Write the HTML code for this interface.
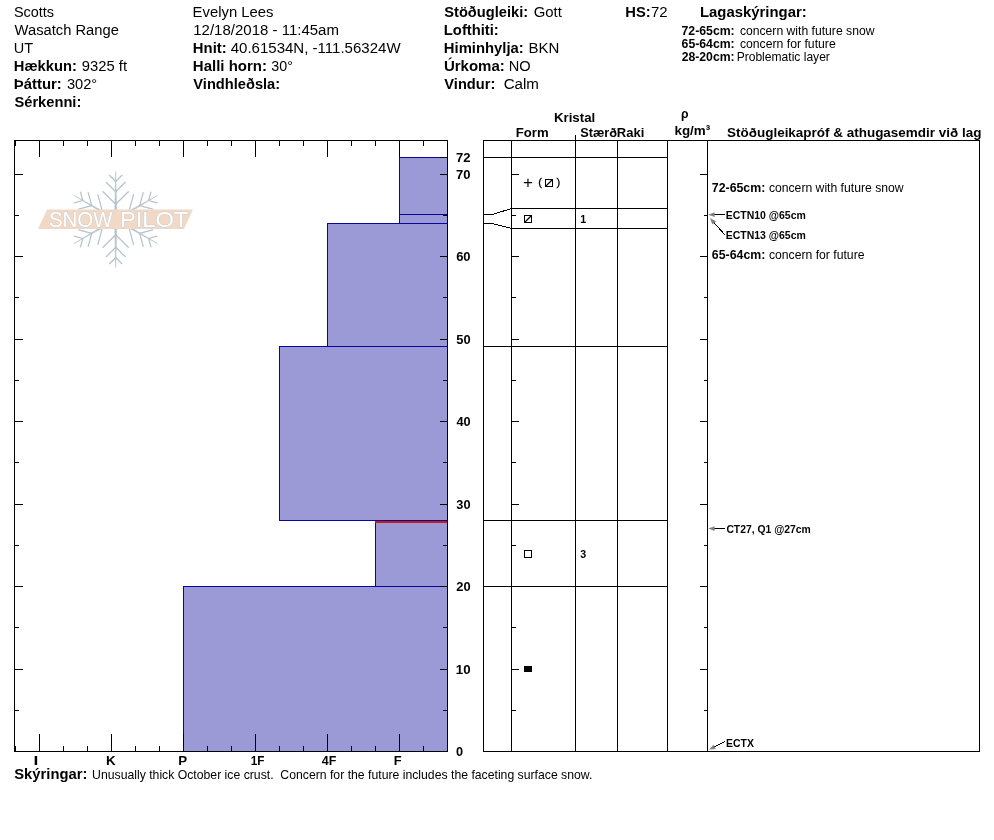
<!DOCTYPE html>
<html><head><meta charset="utf-8"><title>Snow Pilot</title>
<style>
html,body{margin:0;padding:0;background:#fff}
svg{display:block}
text{font-family:"Liberation Sans",sans-serif;white-space:pre}
rect{shape-rendering:crispEdges}
</style></head><body>
<svg width="994" height="840" viewBox="0 0 994 840">
<rect x="0" y="0" width="994" height="840" fill="#fff"/>
<text x="13.95" y="17" font-size="15.2" textLength="40.14" lengthAdjust="spacingAndGlyphs">Scotts</text>
<text x="14.6" y="35" font-size="15.2" textLength="104.23" lengthAdjust="spacingAndGlyphs">Wasatch Range</text>
<text x="13.71" y="53" font-size="15.2" textLength="19.32" lengthAdjust="spacingAndGlyphs">UT</text>
<text x="13.84" y="71" font-size="15.2" font-weight="bold" textLength="63.03" lengthAdjust="spacingAndGlyphs">Hækkun:</text>
<text x="81.83" y="71" font-size="15.2" textLength="45.21" lengthAdjust="spacingAndGlyphs">9325 ft</text>
<text x="13.83" y="89" font-size="15.2" font-weight="bold" textLength="47.94" lengthAdjust="spacingAndGlyphs">Þáttur:</text>
<text x="66.89" y="89" font-size="15.2" textLength="30.27" lengthAdjust="spacingAndGlyphs">302°</text>
<text x="14.43" y="107" font-size="15.2" font-weight="bold" textLength="66.92" lengthAdjust="spacingAndGlyphs">Sérkenni:</text>
<text x="192.61" y="17" font-size="15.2" textLength="80.88" lengthAdjust="spacingAndGlyphs">Evelyn Lees</text>
<text x="193.28" y="35" font-size="15.2" textLength="145.64" lengthAdjust="spacingAndGlyphs">12/18/2018 - 11:45am</text>
<text x="192.83" y="53" font-size="15.2" font-weight="bold" textLength="33.83" lengthAdjust="spacingAndGlyphs">Hnit:</text>
<text x="230.7" y="53" font-size="15.2" textLength="169.89" lengthAdjust="spacingAndGlyphs">40.61534N, -111.56324W</text>
<text x="192.83" y="71" font-size="15.2" font-weight="bold" textLength="74.09" lengthAdjust="spacingAndGlyphs">Halli horn:</text>
<text x="271.3" y="71" font-size="15.2" textLength="21.59" lengthAdjust="spacingAndGlyphs">30°</text>
<text x="193.33" y="89" font-size="15.2" font-weight="bold" textLength="86.83" lengthAdjust="spacingAndGlyphs">Vindhleðsla:</text>
<text x="444.23" y="17" font-size="15.2" font-weight="bold" textLength="83.92" lengthAdjust="spacingAndGlyphs">Stöðugleiki:</text>
<text x="533.65" y="17" font-size="15.2" textLength="28.22" lengthAdjust="spacingAndGlyphs">Gott</text>
<text x="443.84" y="35" font-size="15.2" font-weight="bold" textLength="54.97" lengthAdjust="spacingAndGlyphs">Lofthiti:</text>
<text x="443.84" y="53" font-size="15.2" font-weight="bold" textLength="79.87" lengthAdjust="spacingAndGlyphs">Himinhylja:</text>
<text x="528.6" y="53" font-size="15.2" textLength="30.84" lengthAdjust="spacingAndGlyphs">BKN</text>
<text x="443.9" y="71" font-size="15.2" font-weight="bold" textLength="60.88" lengthAdjust="spacingAndGlyphs">Úrkoma:</text>
<text x="508.83" y="71" font-size="15.2" textLength="21.9" lengthAdjust="spacingAndGlyphs">NO</text>
<text x="444.33" y="89" font-size="15.2" font-weight="bold" textLength="51.01" lengthAdjust="spacingAndGlyphs">Vindur:</text>
<text x="503.64" y="89" font-size="15.2" textLength="35.32" lengthAdjust="spacingAndGlyphs">Calm</text>
<text x="625.24" y="17" font-size="15.2" font-weight="bold" textLength="25.42" lengthAdjust="spacingAndGlyphs">HS:</text>
<text x="651.05" y="17" font-size="15.2" textLength="16.66" lengthAdjust="spacingAndGlyphs">72</text>
<text x="699.93" y="17" font-size="15.2" font-weight="bold" textLength="106.78" lengthAdjust="spacingAndGlyphs">Lagaskýringar:</text>
<text x="681.51" y="35" font-size="12.2" font-weight="bold" textLength="53.21" lengthAdjust="spacingAndGlyphs">72-65cm:</text>
<text x="739.91" y="35" font-size="12.2" textLength="134.54" lengthAdjust="spacingAndGlyphs">concern with future snow</text>
<text x="681.57" y="48" font-size="12.2" font-weight="bold" textLength="53.15" lengthAdjust="spacingAndGlyphs">65-64cm:</text>
<text x="739.91" y="48" font-size="12.2" textLength="95.81" lengthAdjust="spacingAndGlyphs">concern for future</text>
<text x="681.63" y="61" font-size="12.2" font-weight="bold" textLength="53.08" lengthAdjust="spacingAndGlyphs">28-20cm:</text>
<text x="736.63" y="61" font-size="12.2" textLength="93.25" lengthAdjust="spacingAndGlyphs">Problematic layer</text>
<rect x="399.5" y="157.5" width="48" height="57" fill="#9b99d6" stroke="#0a059f" stroke-width="1"/>
<rect x="399.5" y="214.5" width="48" height="9" fill="#9b99d6" stroke="#0a059f" stroke-width="1"/>
<rect x="327.5" y="223.5" width="120" height="123" fill="#9b99d6" stroke="#0a059f" stroke-width="1"/>
<rect x="279.5" y="346.5" width="168" height="174" fill="#9b99d6" stroke="#0a059f" stroke-width="1"/>
<rect x="375.5" y="520.5" width="72" height="66" fill="#9b99d6" stroke="#0a059f" stroke-width="1"/>
<rect x="183.5" y="586.5" width="264" height="165" fill="#9b99d6" stroke="#0a059f" stroke-width="1"/>
<rect x="375" y="521" width="73" height="2" fill="#c01e10"/>
<rect x="14" y="140" width="434" height="1" fill="#000"/>
<rect x="14" y="751" width="434" height="1" fill="#000"/>
<rect x="14" y="140" width="1" height="612" fill="#000"/>
<rect x="447" y="140" width="1" height="612" fill="#000"/>
<rect x="39" y="140" width="1" height="17" fill="#000"/>
<rect x="39" y="734" width="1" height="18" fill="#000"/>
<rect x="63" y="140" width="1" height="6" fill="#000"/>
<rect x="63" y="746" width="1" height="6" fill="#000"/>
<rect x="87" y="140" width="1" height="6" fill="#000"/>
<rect x="87" y="746" width="1" height="6" fill="#000"/>
<rect x="111" y="140" width="1" height="17" fill="#000"/>
<rect x="111" y="734" width="1" height="18" fill="#000"/>
<rect x="135" y="140" width="1" height="6" fill="#000"/>
<rect x="135" y="746" width="1" height="6" fill="#000"/>
<rect x="159" y="140" width="1" height="6" fill="#000"/>
<rect x="159" y="746" width="1" height="6" fill="#000"/>
<rect x="183" y="140" width="1" height="17" fill="#000"/>
<rect x="183" y="734" width="1" height="18" fill="#000"/>
<rect x="207" y="140" width="1" height="6" fill="#000"/>
<rect x="207" y="746" width="1" height="6" fill="#000"/>
<rect x="231" y="140" width="1" height="6" fill="#000"/>
<rect x="231" y="746" width="1" height="6" fill="#000"/>
<rect x="255" y="140" width="1" height="17" fill="#000"/>
<rect x="255" y="734" width="1" height="18" fill="#000"/>
<rect x="279" y="140" width="1" height="6" fill="#000"/>
<rect x="279" y="746" width="1" height="6" fill="#000"/>
<rect x="303" y="140" width="1" height="6" fill="#000"/>
<rect x="303" y="746" width="1" height="6" fill="#000"/>
<rect x="327" y="140" width="1" height="17" fill="#000"/>
<rect x="327" y="734" width="1" height="18" fill="#000"/>
<rect x="351" y="140" width="1" height="6" fill="#000"/>
<rect x="351" y="746" width="1" height="6" fill="#000"/>
<rect x="375" y="140" width="1" height="6" fill="#000"/>
<rect x="375" y="746" width="1" height="6" fill="#000"/>
<rect x="399" y="140" width="1" height="17" fill="#000"/>
<rect x="399" y="734" width="1" height="18" fill="#000"/>
<rect x="423" y="140" width="1" height="6" fill="#000"/>
<rect x="423" y="746" width="1" height="6" fill="#000"/>
<rect x="15" y="140" width="1" height="6" fill="#000"/>
<rect x="15" y="746" width="1" height="6" fill="#000"/>
<rect x="14" y="710" width="5" height="1" fill="#000"/>
<rect x="443" y="710" width="5" height="1" fill="#000"/>
<rect x="14" y="669" width="9" height="1" fill="#000"/>
<rect x="440" y="669" width="8" height="1" fill="#000"/>
<rect x="14" y="627" width="5" height="1" fill="#000"/>
<rect x="443" y="627" width="5" height="1" fill="#000"/>
<rect x="14" y="586" width="9" height="1" fill="#000"/>
<rect x="440" y="586" width="8" height="1" fill="#000"/>
<rect x="14" y="545" width="5" height="1" fill="#000"/>
<rect x="443" y="545" width="5" height="1" fill="#000"/>
<rect x="14" y="504" width="9" height="1" fill="#000"/>
<rect x="440" y="504" width="8" height="1" fill="#000"/>
<rect x="14" y="462" width="5" height="1" fill="#000"/>
<rect x="443" y="462" width="5" height="1" fill="#000"/>
<rect x="14" y="421" width="9" height="1" fill="#000"/>
<rect x="440" y="421" width="8" height="1" fill="#000"/>
<rect x="14" y="380" width="5" height="1" fill="#000"/>
<rect x="443" y="380" width="5" height="1" fill="#000"/>
<rect x="14" y="339" width="9" height="1" fill="#000"/>
<rect x="440" y="339" width="8" height="1" fill="#000"/>
<rect x="14" y="297" width="5" height="1" fill="#000"/>
<rect x="443" y="297" width="5" height="1" fill="#000"/>
<rect x="14" y="256" width="9" height="1" fill="#000"/>
<rect x="440" y="256" width="8" height="1" fill="#000"/>
<rect x="14" y="215" width="5" height="1" fill="#000"/>
<rect x="443" y="215" width="5" height="1" fill="#000"/>
<rect x="14" y="174" width="9" height="1" fill="#000"/>
<rect x="440" y="174" width="8" height="1" fill="#000"/>
<rect x="440" y="157" width="8" height="1" fill="#000"/>
<text x="33.57" y="765" font-size="13.7" font-weight="bold" textLength="4.82" lengthAdjust="spacingAndGlyphs">I</text>
<text x="106.03" y="765" font-size="13.7" font-weight="bold" textLength="9.67" lengthAdjust="spacingAndGlyphs">K</text>
<text x="178.13" y="765" font-size="13.7" font-weight="bold" textLength="8.89" lengthAdjust="spacingAndGlyphs">P</text>
<text x="250.69" y="765" font-size="13.7" font-weight="bold" textLength="13.74" lengthAdjust="spacingAndGlyphs">1F</text>
<text x="321.81" y="765" font-size="13.7" font-weight="bold" textLength="14.55" lengthAdjust="spacingAndGlyphs">4F</text>
<text x="393.86" y="765" font-size="13.7" font-weight="bold" textLength="7.91" lengthAdjust="spacingAndGlyphs">F</text>
<text x="455.8" y="674" font-size="13.7" font-weight="bold" textLength="14.79" lengthAdjust="spacingAndGlyphs">10</text>
<text x="456.21" y="591" font-size="13.7" font-weight="bold" textLength="14.37" lengthAdjust="spacingAndGlyphs">20</text>
<text x="456.34" y="509" font-size="13.7" font-weight="bold" textLength="14.23" lengthAdjust="spacingAndGlyphs">30</text>
<text x="456.41" y="426" font-size="13.7" font-weight="bold" textLength="14.17" lengthAdjust="spacingAndGlyphs">40</text>
<text x="456.21" y="344" font-size="13.7" font-weight="bold" textLength="14.37" lengthAdjust="spacingAndGlyphs">50</text>
<text x="456.15" y="261" font-size="13.7" font-weight="bold" textLength="14.44" lengthAdjust="spacingAndGlyphs">60</text>
<text x="456.08" y="179" font-size="13.7" font-weight="bold" textLength="14.51" lengthAdjust="spacingAndGlyphs">70</text>
<text x="455.95" y="756" font-size="13.7" font-weight="bold" textLength="7.11" lengthAdjust="spacingAndGlyphs">0</text>
<text x="456.08" y="162" font-size="13.7" font-weight="bold" textLength="14.51" lengthAdjust="spacingAndGlyphs">72</text>
<rect x="483" y="140" width="497" height="1" fill="#000"/>
<rect x="483" y="751" width="497" height="1" fill="#000"/>
<rect x="483" y="140" width="1" height="612" fill="#000"/>
<rect x="979" y="140" width="1" height="612" fill="#000"/>
<rect x="511" y="140" width="1" height="612" fill="#000"/>
<rect x="575" y="140" width="1" height="612" fill="#000"/>
<rect x="617" y="140" width="1" height="612" fill="#000"/>
<rect x="667" y="140" width="1" height="612" fill="#000"/>
<rect x="707" y="140" width="1" height="612" fill="#000"/>
<rect x="575" y="135" width="1" height="6" fill="#000"/>
<rect x="483" y="157" width="185" height="1" fill="#000"/>
<rect x="511" y="208" width="157" height="1" fill="#000"/>
<rect x="511" y="228" width="157" height="1" fill="#000"/>
<rect x="483" y="346" width="185" height="1" fill="#000"/>
<rect x="483" y="520" width="185" height="1" fill="#000"/>
<rect x="483" y="586" width="185" height="1" fill="#000"/>
<rect x="483" y="214" width="10" height="1" fill="#000"/>
<rect x="483" y="223" width="10" height="1" fill="#000"/>
<path d="M492.5 214.5 L511.5 208.5 M492.5 223.5 L511.5 228.5" stroke="#000" stroke-width="1" fill="none" shape-rendering="crispEdges"/>
<rect x="511" y="710" width="5" height="1" fill="#000"/>
<rect x="704" y="710" width="4" height="1" fill="#000"/>
<rect x="511" y="669" width="8" height="1" fill="#000"/>
<rect x="700" y="669" width="8" height="1" fill="#000"/>
<rect x="511" y="627" width="5" height="1" fill="#000"/>
<rect x="704" y="627" width="4" height="1" fill="#000"/>
<rect x="511" y="586" width="8" height="1" fill="#000"/>
<rect x="700" y="586" width="8" height="1" fill="#000"/>
<rect x="511" y="545" width="5" height="1" fill="#000"/>
<rect x="704" y="545" width="4" height="1" fill="#000"/>
<rect x="511" y="504" width="8" height="1" fill="#000"/>
<rect x="700" y="504" width="8" height="1" fill="#000"/>
<rect x="511" y="462" width="5" height="1" fill="#000"/>
<rect x="704" y="462" width="4" height="1" fill="#000"/>
<rect x="511" y="421" width="8" height="1" fill="#000"/>
<rect x="700" y="421" width="8" height="1" fill="#000"/>
<rect x="511" y="380" width="5" height="1" fill="#000"/>
<rect x="704" y="380" width="4" height="1" fill="#000"/>
<rect x="511" y="339" width="8" height="1" fill="#000"/>
<rect x="700" y="339" width="8" height="1" fill="#000"/>
<rect x="511" y="297" width="5" height="1" fill="#000"/>
<rect x="704" y="297" width="4" height="1" fill="#000"/>
<rect x="511" y="256" width="8" height="1" fill="#000"/>
<rect x="700" y="256" width="8" height="1" fill="#000"/>
<rect x="511" y="215" width="5" height="1" fill="#000"/>
<rect x="704" y="215" width="4" height="1" fill="#000"/>
<rect x="511" y="174" width="8" height="1" fill="#000"/>
<rect x="700" y="174" width="8" height="1" fill="#000"/>
<text x="553.94" y="122" font-size="13.7" font-weight="bold" textLength="41.25" lengthAdjust="spacingAndGlyphs">Kristal</text>
<text x="515.75" y="137" font-size="13.7" font-weight="bold" textLength="32.84" lengthAdjust="spacingAndGlyphs">Form</text>
<text x="580.18" y="137" font-size="13.7" font-weight="bold" textLength="36.86" lengthAdjust="spacingAndGlyphs">Stærð</text>
<text x="616.75" y="137" font-size="13.7" font-weight="bold" textLength="27.52" lengthAdjust="spacingAndGlyphs">Raki</text>
<text x="680.93" y="118" font-size="13.7" font-weight="bold" textLength="7.54" lengthAdjust="spacingAndGlyphs">ρ</text>
<text x="674.43" y="135" font-size="13.7" font-weight="bold" textLength="35.8" lengthAdjust="spacingAndGlyphs">kg/m³</text>
<text x="727.06" y="137" font-size="13.7" font-weight="bold" textLength="254.34" lengthAdjust="spacingAndGlyphs">Stöðugleikapróf &amp; athugasemdir við lag</text>
<text x="522.9" y="188.3" font-size="17">+</text>
<text x="538.3" y="186" font-size="11" stroke="#000" stroke-width="0.3">(</text>
<text x="556.4" y="186" font-size="11" stroke="#000" stroke-width="0.3">)</text>
<rect x="545.5" y="179.5" width="7" height="7" fill="none" stroke="#000"/>
<path d="M545.5 186.5 L552.5 179.5" stroke="#000" stroke-width="1.3" fill="none"/>
<rect x="524.5" y="215.5" width="7" height="7" fill="none" stroke="#000"/>
<path d="M524.5 222.5 L531.5 215.5" stroke="#000" stroke-width="1.3" fill="none"/>
<text x="580.2" y="223" font-size="10.67" font-weight="bold">1</text>
<rect x="524.5" y="550.5" width="7" height="7" fill="none" stroke="#000"/>
<text x="580.19" y="558" font-size="10.67" font-weight="bold" textLength="5.9" lengthAdjust="spacingAndGlyphs">3</text>
<rect x="524" y="666" width="8" height="6" fill="#000"/>
<text x="711.81" y="192" font-size="12.2" font-weight="bold" textLength="53.52" lengthAdjust="spacingAndGlyphs">72-65cm:</text>
<text x="768.91" y="192" font-size="12.2" textLength="134.64" lengthAdjust="spacingAndGlyphs">concern with future snow</text>
<text x="711.87" y="259" font-size="12.2" font-weight="bold" textLength="53.45" lengthAdjust="spacingAndGlyphs">65-64cm:</text>
<text x="768.91" y="259" font-size="12.2" textLength="95.61" lengthAdjust="spacingAndGlyphs">concern for future</text>
<text x="725.82" y="219" font-size="10.67" font-weight="bold" textLength="80.01" lengthAdjust="spacingAndGlyphs">ECTN10 @65cm</text>
<text x="725.82" y="239" font-size="10.67" font-weight="bold" textLength="80.01" lengthAdjust="spacingAndGlyphs">ECTN13 @65cm</text>
<text x="726.39" y="533" font-size="10.67" font-weight="bold" textLength="84.34" lengthAdjust="spacingAndGlyphs">CT27, Q1 @27cm</text>
<text x="726.12" y="747" font-size="10.67" font-weight="bold" textLength="27.85" lengthAdjust="spacingAndGlyphs">ECTX</text>
<path d="M725 214.5 L713.60 214.70" stroke="#000" fill="none" shape-rendering="crispEdges"/>
<path d="M708.30 214.80 L714.56 212.29 L714.64 217.09 Z" fill="#808080"/>
<path d="M724.8 234.8 L713.52 222.07" stroke="#000" fill="none" shape-rendering="crispEdges"/>
<path d="M710.00 218.10 L715.97 221.22 L712.38 224.41 Z" fill="#808080"/>
<path d="M725 528.5 L713.60 528.57" stroke="#000" fill="none" shape-rendering="crispEdges"/>
<path d="M708.30 528.60 L714.59 526.16 L714.61 530.96 Z" fill="#808080"/>
<path d="M725 741.7 L713.75 747.25" stroke="#000" fill="none" shape-rendering="crispEdges"/>
<path d="M709.00 749.60 L713.59 744.66 L715.71 748.96 Z" fill="#808080"/>
<text x="14.23" y="779" font-size="15.2" font-weight="bold" textLength="73.12" lengthAdjust="spacingAndGlyphs">Skýringar:</text>
<text x="92.08" y="779" font-size="12.2" textLength="500.32" lengthAdjust="spacingAndGlyphs" xml:space="preserve">Unusually thick October ice crust.  Concern for the future includes the faceting surface snow.</text>
<path d="M117.0 219.5 L115.7 171.3 L114.5 219.5 Z" fill="#b5c3cd" stroke="#b5c3cd" stroke-width="0.5"/><path d="M115.7 204.3 L103.1 191.7" stroke="#b5c3cd" stroke-width="1.25" stroke-linecap="round" fill="none"/><path d="M115.7 204.3 L128.3 191.7" stroke="#b5c3cd" stroke-width="1.25" stroke-linecap="round" fill="none"/><path d="M115.7 191.8 L106.2 182.3" stroke="#b5c3cd" stroke-width="1.25" stroke-linecap="round" fill="none"/><path d="M115.7 191.8 L125.2 182.3" stroke="#b5c3cd" stroke-width="1.25" stroke-linecap="round" fill="none"/><path d="M115.7 181.5 L109.5 175.3" stroke="#b5c3cd" stroke-width="1.25" stroke-linecap="round" fill="none"/><path d="M115.7 181.5 L121.9 175.3" stroke="#b5c3cd" stroke-width="1.25" stroke-linecap="round" fill="none"/><path d="M116.3 218.4 L74.0 195.4 L115.1 220.6 Z" fill="#b5c3cd" stroke="#b5c3cd" stroke-width="0.5"/><path d="M102.5 211.9 L85.3 216.5" stroke="#b5c3cd" stroke-width="1.25" stroke-linecap="round" fill="none"/><path d="M102.5 211.9 L97.9 194.7" stroke="#b5c3cd" stroke-width="1.25" stroke-linecap="round" fill="none"/><path d="M91.7 205.7 L78.7 209.1" stroke="#b5c3cd" stroke-width="1.25" stroke-linecap="round" fill="none"/><path d="M91.7 205.7 L88.2 192.6" stroke="#b5c3cd" stroke-width="1.25" stroke-linecap="round" fill="none"/><path d="M82.8 200.5 L74.4 202.8" stroke="#b5c3cd" stroke-width="1.25" stroke-linecap="round" fill="none"/><path d="M82.8 200.5 L80.5 192.1" stroke="#b5c3cd" stroke-width="1.25" stroke-linecap="round" fill="none"/><path d="M115.1 218.4 L74.0 243.6 L116.3 220.6 Z" fill="#b5c3cd" stroke="#b5c3cd" stroke-width="0.5"/><path d="M102.5 227.1 L97.9 244.3" stroke="#b5c3cd" stroke-width="1.25" stroke-linecap="round" fill="none"/><path d="M102.5 227.1 L85.3 222.5" stroke="#b5c3cd" stroke-width="1.25" stroke-linecap="round" fill="none"/><path d="M91.7 233.3 L88.2 246.4" stroke="#b5c3cd" stroke-width="1.25" stroke-linecap="round" fill="none"/><path d="M91.7 233.3 L78.7 229.9" stroke="#b5c3cd" stroke-width="1.25" stroke-linecap="round" fill="none"/><path d="M82.8 238.5 L80.5 246.9" stroke="#b5c3cd" stroke-width="1.25" stroke-linecap="round" fill="none"/><path d="M82.8 238.5 L74.4 236.2" stroke="#b5c3cd" stroke-width="1.25" stroke-linecap="round" fill="none"/><path d="M114.5 219.5 L115.7 267.7 L117.0 219.5 Z" fill="#b5c3cd" stroke="#b5c3cd" stroke-width="0.5"/><path d="M115.7 234.7 L128.3 247.3" stroke="#b5c3cd" stroke-width="1.25" stroke-linecap="round" fill="none"/><path d="M115.7 234.7 L103.1 247.3" stroke="#b5c3cd" stroke-width="1.25" stroke-linecap="round" fill="none"/><path d="M115.7 247.2 L125.2 256.7" stroke="#b5c3cd" stroke-width="1.25" stroke-linecap="round" fill="none"/><path d="M115.7 247.2 L106.2 256.7" stroke="#b5c3cd" stroke-width="1.25" stroke-linecap="round" fill="none"/><path d="M115.7 257.5 L121.9 263.7" stroke="#b5c3cd" stroke-width="1.25" stroke-linecap="round" fill="none"/><path d="M115.7 257.5 L109.5 263.7" stroke="#b5c3cd" stroke-width="1.25" stroke-linecap="round" fill="none"/><path d="M115.1 220.6 L157.4 243.6 L116.3 218.4 Z" fill="#b5c3cd" stroke="#b5c3cd" stroke-width="0.5"/><path d="M128.9 227.1 L146.1 222.5" stroke="#b5c3cd" stroke-width="1.25" stroke-linecap="round" fill="none"/><path d="M128.9 227.1 L133.5 244.3" stroke="#b5c3cd" stroke-width="1.25" stroke-linecap="round" fill="none"/><path d="M139.7 233.4 L152.7 229.9" stroke="#b5c3cd" stroke-width="1.25" stroke-linecap="round" fill="none"/><path d="M139.7 233.4 L143.2 246.4" stroke="#b5c3cd" stroke-width="1.25" stroke-linecap="round" fill="none"/><path d="M148.6 238.5 L157.0 236.2" stroke="#b5c3cd" stroke-width="1.25" stroke-linecap="round" fill="none"/><path d="M148.6 238.5 L150.9 246.9" stroke="#b5c3cd" stroke-width="1.25" stroke-linecap="round" fill="none"/><path d="M116.3 220.6 L157.4 195.4 L115.1 218.4 Z" fill="#b5c3cd" stroke="#b5c3cd" stroke-width="0.5"/><path d="M128.9 211.9 L133.5 194.7" stroke="#b5c3cd" stroke-width="1.25" stroke-linecap="round" fill="none"/><path d="M128.9 211.9 L146.1 216.5" stroke="#b5c3cd" stroke-width="1.25" stroke-linecap="round" fill="none"/><path d="M139.7 205.7 L143.2 192.6" stroke="#b5c3cd" stroke-width="1.25" stroke-linecap="round" fill="none"/><path d="M139.7 205.7 L152.7 209.1" stroke="#b5c3cd" stroke-width="1.25" stroke-linecap="round" fill="none"/><path d="M148.6 200.5 L150.9 192.1" stroke="#b5c3cd" stroke-width="1.25" stroke-linecap="round" fill="none"/><path d="M148.6 200.5 L157.0 202.8" stroke="#b5c3cd" stroke-width="1.25" stroke-linecap="round" fill="none"/>
<path d="M47 209.5 L193 209.5 L184 229 L38 229 Z" fill="#f1d9c5"/>
<text y="227.4" font-size="22.3" fill="#fff" stroke="#c6ccd1" stroke-width="0.9" paint-order="stroke"><tspan x="48.88" textLength="63.74" lengthAdjust="spacingAndGlyphs">SNOW</tspan> <tspan x="119.90" textLength="68.46" lengthAdjust="spacingAndGlyphs">PILOT</tspan></text>
</svg>
</body></html>
